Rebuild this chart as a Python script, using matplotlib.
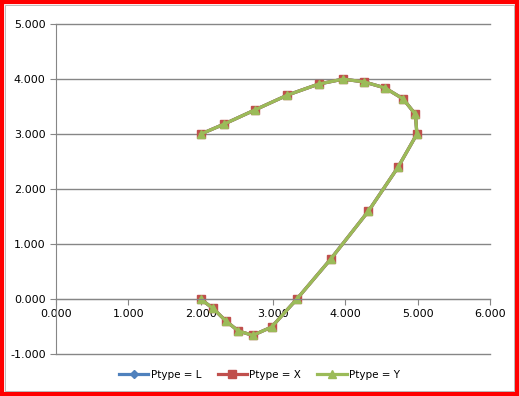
import matplotlib.pyplot as plt
from matplotlib.patches import Rectangle

# points (all three series lie on top of each other)
x_vals = [2.00, 2.32, 2.75, 3.20, 3.63, 3.97, 4.26, 4.55, 4.80, 4.97, 4.99,
          4.73, 4.32, 3.80, 3.33, 2.98, 2.72, 2.52, 2.35, 2.17, 2.00]
y_vals = [3.00, 3.18, 3.44, 3.71, 3.91, 4.00, 3.95, 3.84, 3.64, 3.36, 3.00,
          2.40, 1.60, 0.73, 0.00, -0.51, -0.66, -0.58, -0.40, -0.17, 0.00]
series_names = ['Ptype = L', 'Ptype = X', 'Ptype = Y']
series_colors = ['#4F81BD', '#C0504D', '#9BBB59']
series_markers = ['D', 's', '^']
series_msize = [4.5, 6.3, 6.3]
x_ticks = [0, 1, 2, 3, 4, 5, 6]
y_ticks = [-1, 0, 1, 2, 3, 4, 5]

plt.rcParams['font.family'] = 'DejaVu Sans'

fig = plt.figure(figsize=(5.19, 3.96), dpi=100)
ax = fig.add_axes([0.108, 0.106, 0.836, 0.833])

for name, c, m, ms in zip(series_names, series_colors, series_markers, series_msize):
    ax.plot(x_vals, y_vals, color=c, marker=m, markersize=ms, lw=2.3,
            markeredgecolor=c, label=name)

ax.set_xlim(0, 6)
ax.set_ylim(-1, 5)
ax.set_xticks(x_ticks)
ax.set_yticks(y_ticks)
ax.set_xticklabels(['%.3f' % v for v in x_ticks])
ax.set_yticklabels(['%.3f' % v for v in y_ticks])
ax.grid(axis='y', color='#868686', lw=1)
for gl in ax.get_ygridlines():
    gl.set_clip_on(False)
ax.set_axisbelow(True)

for s in ['top', 'right']:
    ax.spines[s].set_visible(False)
ax.spines['bottom'].set_position(('data', 0))
ax.spines['bottom'].set_color('#868686')
ax.spines['left'].set_color('#868686')
ax.tick_params(axis='both', direction='out', length=4, color='#868686',
               labelsize=8, labelcolor='black')

fig.legend(loc='center', bbox_to_anchor=(0.5, 0.053), ncol=3, frameon=False,
           fontsize=7.5, handlelength=2.8, handletextpad=0.2, columnspacing=1.6)

# red outline and inner grey frame like the Excel chart area
fig.patches.append(Rectangle((0.003, 0.004), 0.994, 0.992, transform=fig.transFigure,
                             fill=False, edgecolor='red', lw=3))
fig.patches.append(Rectangle((0.009, 0.012), 0.982, 0.976, transform=fig.transFigure,
                             fill=False, edgecolor='#B0B0B0', lw=0.6))

fig.savefig('out.png', dpi=100)
